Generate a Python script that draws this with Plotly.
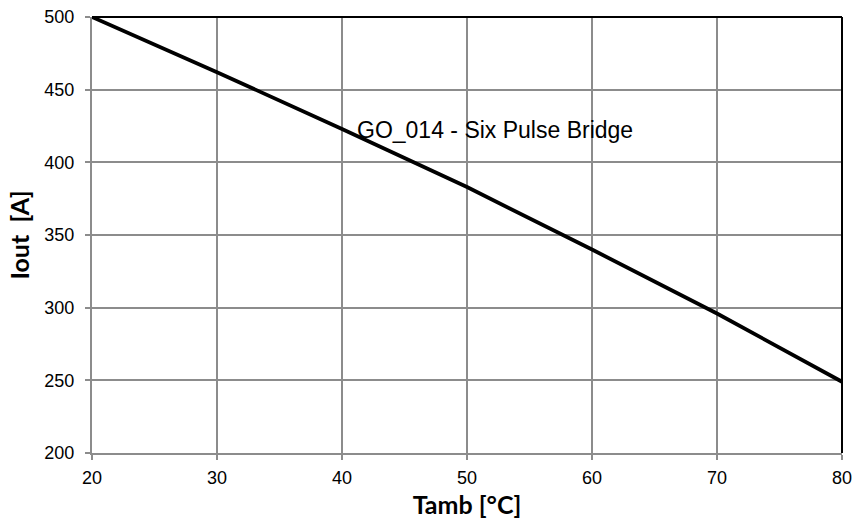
import plotly.graph_objects as go

tamb = [20, 30, 40, 50, 60, 70, 80]
iout = [500, 462, 423, 383, 340, 296, 249]
x_ticks = [20, 30, 40, 50, 60, 70, 80]
y_ticks = [200, 250, 300, 350, 400, 450, 500]
label = "GO_014 - Six Pulse Bridge"

fig = go.Figure()
fig.add_trace(go.Scatter(x=tamb, y=iout, mode="lines",
                         line=dict(color="black", width=3.8), showlegend=False,
                         hoverinfo="skip"))

grid = "#8c8c8c"
fig.update_layout(
    width=858, height=529,
    margin=dict(l=92, r=16, t=17, b=76),
    paper_bgcolor="white", plot_bgcolor="white",
    font=dict(family="Liberation Sans, Arial", size=18, color="black"),
    xaxis=dict(range=[20, 80], tickvals=x_ticks, showgrid=True, gridcolor=grid,
               gridwidth=2, showline=True, linecolor=grid, linewidth=2,
               ticks="outside", ticklen=5, tickcolor=grid, tickwidth=2,
               zeroline=False, automargin=False, ticklabelstandoff=2,
               title=dict(text="<b>Tamb [°C]</b>",
                          font=dict(family="Lato, Open Sans", size=25), standoff=10)),
    yaxis=dict(range=[200, 500], tickvals=y_ticks, showgrid=True, gridcolor=grid,
               gridwidth=2, showline=True, linecolor=grid, linewidth=2,
               ticks="outside", ticklen=5, tickcolor=grid, tickwidth=2,
               zeroline=False, automargin=False, ticklabelstandoff=7,
               title=dict(text="<b>Iout  [A]</b>",
                          font=dict(family="Lato, Open Sans", size=25), standoff=8)),
    shapes=[
        dict(type="line", xref="paper", yref="paper", x0=0, x1=1, y0=1, y1=1,
             line=dict(color="black", width=2)),
        dict(type="line", xref="paper", yref="paper", x0=1, x1=1, y0=0, y1=1,
             line=dict(color="black", width=2)),
    ],
    annotations=[dict(x=52.2, y=422, xref="x", yref="y", text=label,
                      showarrow=False, font=dict(family="Liberation Sans, Arial", size=23))],
)

fig.write_html("out.html", config={"displayModeBar": False},
               post_script="document.body.style.margin='0';")
